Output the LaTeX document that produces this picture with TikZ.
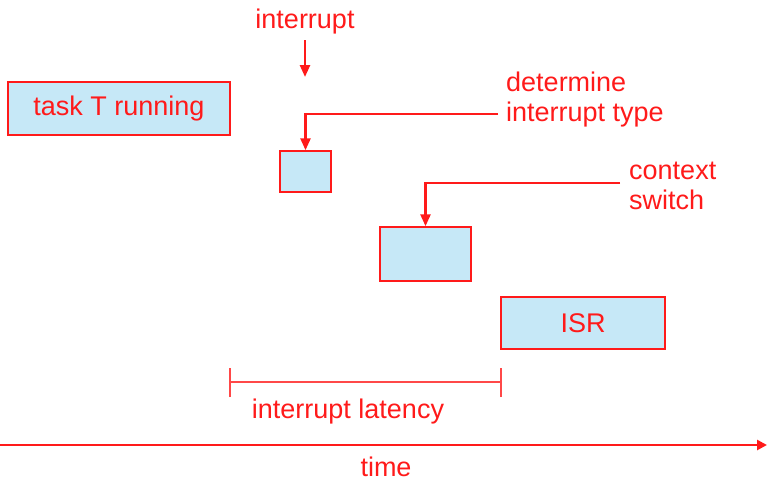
\documentclass[tikz,border=0pt]{standalone}
\usepackage{fontspec}
\setmainfont{Liberation Sans}
\usetikzlibrary{arrows.meta}
\definecolor{lblue}{HTML}{C6E8F7}
\definecolor{ired}{HTML}{FF1A1A}
\begin{document}
\begin{tikzpicture}[x=1pt,y=-1pt,
  phase/.style={draw=ired,line width=1.5pt,fill=lblue,inner sep=0pt,
    text=ired,font=\fontsize{27}{30}\selectfont},
  lbl/.style={text=ired,font=\fontsize{27}{30}\selectfont,inner sep=0pt,align=left},
  link/.style={draw=ired,line width=2.5pt,-{Triangle[length=12pt,width=10pt]}},
  span/.style={draw=ired!80,line width=1.4pt}]
\useasboundingbox (0,0) rectangle (767,483);

% execution phases along the time line
\node[phase,minimum width=222pt,minimum height=53pt] (task) at (119,108.5) {task T running};
\node[phase,minimum width=51pt,minimum height=41pt] (det) at (305.5,171.5) {};
\node[phase,minimum width=91pt,minimum height=54pt] (ctx) at (425.5,254) {};
\node[phase,minimum width=164pt,minimum height=52pt] (isr) at (583,323) {ISR};

% labels
\node[lbl] (intl) at (305,22) {interrupt};
\node[lbl,anchor=west] (detl) at (506,100) {determine\\interrupt type};
\node[lbl,anchor=west] (ctxl) at (629,186) {context\\switch};
\node[lbl] (latl) at (348,412) {interrupt latency};
\node[lbl] (timel) at (386,467) {time};

% connectors
\coordinate (intend) at (305,77);
\draw[link] (305,40) -- (intend);
\coordinate (detstart) at (498,114);
\draw[link] (detstart) -| (det.north);
\coordinate (ctxstart) at (620,183);
\draw[link] (ctxstart) -| (ctx.north);

% latency span
\coordinate (latL) at (230,382);
\coordinate (latR) at (501,382);
\draw[span] (latL) -- (latR);
\draw[span] ([yshift=-15pt]latL) -- ([yshift=14pt]latL);
\draw[span] ([yshift=-15pt]latR) -- ([yshift=14pt]latR);

% time axis
\coordinate (t0) at (0,445);
\coordinate (t1) at (767,445);
\draw[draw=ired,line width=2.8pt,-{Triangle[length=10pt,width=10pt]}] (t0) -- (t1);
\end{tikzpicture}
\end{document}
